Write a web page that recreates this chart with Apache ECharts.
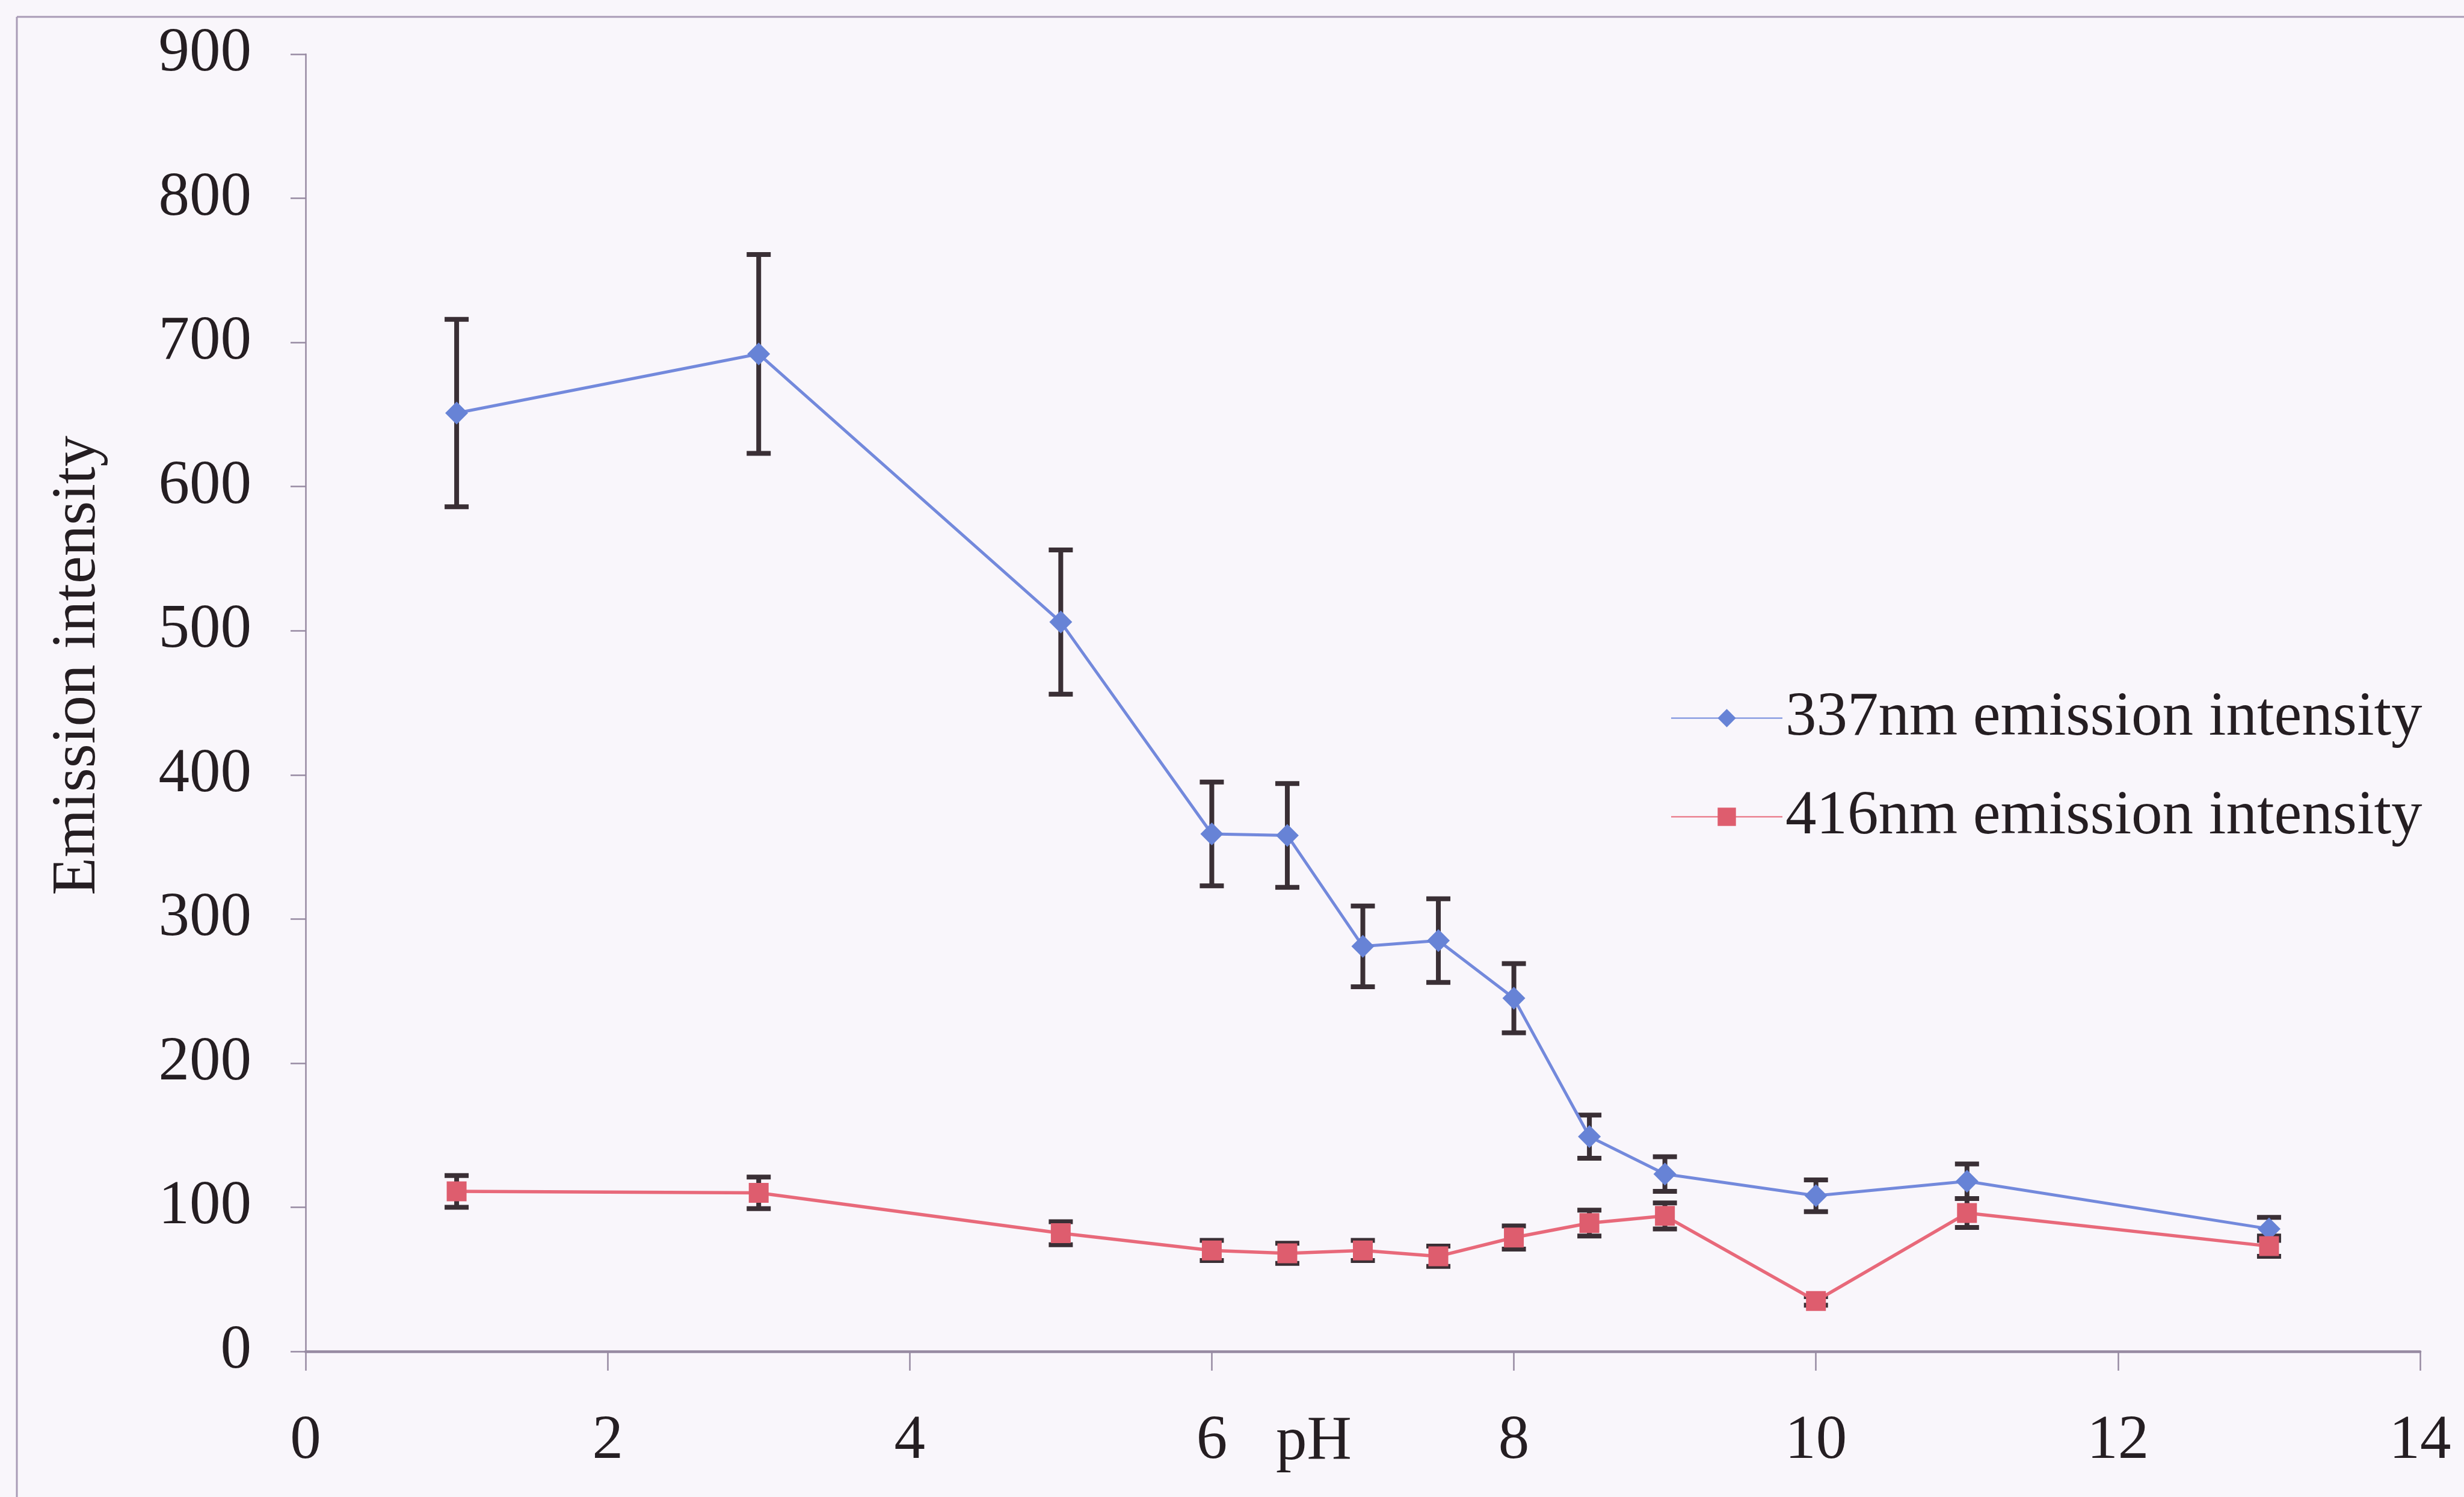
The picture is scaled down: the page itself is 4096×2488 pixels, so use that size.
<!DOCTYPE html>
<html>
<head>
<meta charset="utf-8">
<title>Emission intensity vs pH</title>
<script src="https://cdn.jsdelivr.net/npm/echarts@6/dist/echarts.min.js"></script>
<style>
  html, body { margin: 0; padding: 0; background: #f9f6fb; }
  #chart { width: 4096px; height: 2488px; }
</style>
</head>
<body>
<div id="chart"></div>
<script>
// pH values of the measured solutions
const pH = [1, 3, 5, 6, 6.5, 7, 7.5, 8, 8.5, 9, 10, 11, 13];

// 337 nm emission band: mean intensity and error
const em337 = [651, 692, 506, 359, 358, 281, 285, 245, 149, 123, 108, 118, 85];
const err337 = [65, 69, 50, 36, 36, 28, 29, 24, 15, 12, 11, 12, 8];

// 416 nm emission band: mean intensity and error
const em416 = [111, 110, 82, 70, 68, 70, 66, 79, 89, 94, 35, 96, 73];
const err416 = [11, 11, 8, 7, 7, 7, 7, 8, 9, 9, 3, 10, 7];

// axis ranges
const xRange = [0, 14, 2];
const yRange = [0, 900, 100];

const names = ['337nm emission intensity', '416nm emission intensity'];

const FONT = '"Liberation Serif", "Times New Roman", serif';
const TEXT = '#251e22';
const AXIS = '#978aa2';
const BAR = '#3a2f35';
const BLUE = '#7389dc';
const RED = '#e8697a';
const FS = 103;

const chart = echarts.init(document.getElementById('chart'), null, { renderer: 'canvas' });

function pairs(xs, ys) { return xs.map((x, i) => [x, ys[i]]); }
function triples(xs, ys, es) { return xs.map((x, i) => [x, ys[i], es[i]]); }

// vertical error bar with caps, positioned through the axes
function errorBar(params, api) {
  const x = api.value(0), y = api.value(1), e = api.value(2);
  const top = api.coord([x, y + e]);
  const bot = api.coord([x, y - e]);
  const half = 20;
  const style = { stroke: BAR, lineWidth: 8 };
  return {
    type: 'group',
    children: [
      { type: 'line', shape: { x1: top[0], y1: top[1], x2: bot[0], y2: bot[1] }, style },
      { type: 'line', shape: { x1: top[0] - half, y1: top[1], x2: top[0] + half, y2: top[1] }, style },
      { type: 'line', shape: { x1: bot[0] - half, y1: bot[1], x2: bot[0] + half, y2: bot[1] }, style }
    ]
  };
}

const option = {
  backgroundColor: '#f9f6fb',
  animation: false,
  textStyle: { fontFamily: FONT, color: TEXT },
  grid: { left: 508, right: 73, top: 90, bottom: 242, containLabel: false },
  legend: {
    data: names,
    orient: 'vertical',
    left: 2772,
    top: 1137,
    itemWidth: 185,
    itemHeight: 38,
    itemGap: 61,
    textStyle: { fontFamily: FONT, fontSize: FS, color: TEXT, lineHeight: FS }
  },
  xAxis: {
    type: 'value',
    min: xRange[0], max: xRange[1], interval: xRange[2],
    axisLine: { show: true, onZero: false, lineStyle: { color: AXIS, width: 4.5 } },
    axisTick: { show: true, inside: false, length: 32, lineStyle: { color: AXIS, width: 2.5 } },
    axisLabel: { margin: 98, fontFamily: FONT, fontSize: FS, color: TEXT },
    splitLine: { show: false }
  },
  yAxis: {
    type: 'value',
    min: yRange[0], max: yRange[1], interval: yRange[2],
    axisLine: { show: true, onZero: false, lineStyle: { color: AXIS, width: 2.5 } },
    axisTick: { show: true, inside: false, length: 25, lineStyle: { color: AXIS, width: 2.5 } },
    axisLabel: { margin: 90, fontFamily: FONT, fontSize: FS, color: TEXT },
    splitLine: { show: false }
  },
  graphic: [
    // page frame
    { type: 'line', shape: { x1: 28, y1: 28, x2: 4096, y2: 28 }, style: { stroke: '#a99bb6', lineWidth: 3 }, silent: true },
    { type: 'line', shape: { x1: 28, y1: 28, x2: 28, y2: 2488 }, style: { stroke: '#a99bb6', lineWidth: 3 }, silent: true },
    // axis titles
    {
      type: 'text', x: 130, y: 1106, rotation: Math.PI / 2,
      style: { text: 'Emission intensity', font: FS + 'px ' + FONT, fill: TEXT, align: 'center', verticalAlign: 'middle' }
    },
    {
      type: 'text', x: 2184, y: 2398,
      style: { text: 'pH', font: FS + 'px ' + FONT, fill: TEXT, align: 'center', verticalAlign: 'middle' }
    }
  ],
  series: [
    {
      name: 'err337', type: 'custom', renderItem: errorBar, z: 1,
      data: triples(pH, em337, err337), encode: { x: 0, y: 1 }
    },
    {
      name: 'err416', type: 'custom', renderItem: errorBar, z: 1,
      data: triples(pH, em416, err416), encode: { x: 0, y: 1 }
    },
    {
      name: names[0], type: 'line', z: 3,
      data: pairs(pH, em337),
      symbol: 'diamond', symbolSize: 38,
      lineStyle: { color: BLUE, width: 5 },
      itemStyle: { color: '#6783d6' }
    },
    {
      name: names[1], type: 'line', z: 3,
      data: pairs(pH, em416),
      symbol: 'rect', symbolSize: 33,
      lineStyle: { color: RED, width: 5.5 },
      itemStyle: { color: '#de5d6e' }
    }
  ]
};

chart.setOption(option);
</script>
</body>
</html>
